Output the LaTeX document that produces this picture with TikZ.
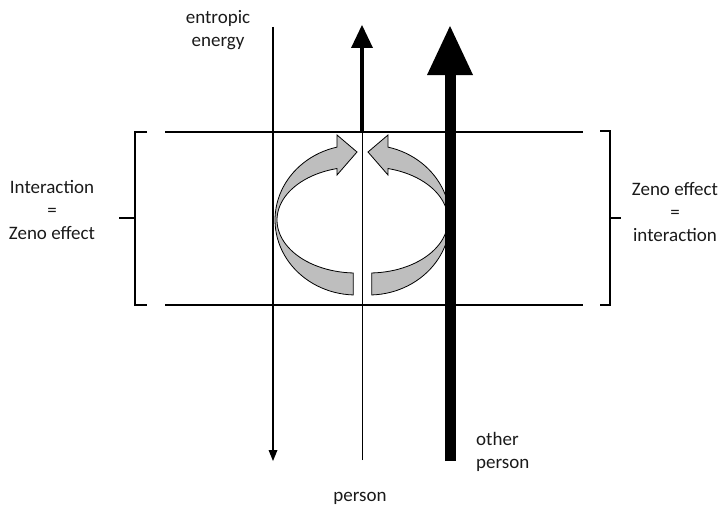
\documentclass[tikz,border=0pt]{standalone}
\usepackage{fontspec}
\setmainfont{Carlito}
\usetikzlibrary{arrows.meta}
\definecolor{ZenoArrowFill}{HTML}{BEBEBE}
\definecolor{ZenoText}{HTML}{1A1A1A}

\begin{document}
\begin{tikzpicture}[x=1pt,y=-1pt,font=\fontsize{19}{23}\selectfont,
  label/.style={text=ZenoText,align=center,inner sep=0pt},
  rule/.style={line width=2.4pt},
  turn/.style={draw=black,fill=ZenoArrowFill,line width=0.8pt,line join=miter}]
  \useasboundingbox (0,0) rectangle (722,511);

  % interaction band
  \draw[rule] (165,132) -- (583,132);
  \draw[rule] (165,305) -- (583,305);

  % brackets
  \draw[line width=2pt] (147,132) -- (135,132) -- (135,305) -- (147,305);
  \draw[line width=2pt] (135,218) -- (119,218);
  \draw[line width=2pt] (600,131) -- (610,131) -- (610,305) -- (600,305);
  \draw[line width=2pt] (610,218) -- (621,218);

  % person axis (thin part)
  \coordinate (personbase) at (362,460);
  \coordinate (personmid) at (362,132);
  \coordinate (persontop) at (362,25);
  \draw[line width=0.9pt] (personbase) -- (personmid);

  % turning arrows
  \filldraw[turn] plot[domain=92:256.4,samples=50] ({356+81*cos(\x)},{220+75*sin(\x)})
    -- (337,135) -- (357,152) -- (337,175)
    -- plot[domain=256.1:92,samples=50] ({356+79*cos(\x)},{220+53*sin(\x)}) -- cycle;
  \filldraw[turn] plot[domain=88:-76.4,samples=50] ({369+81*cos(\x)},{220+75*sin(\x)})
    -- (388,135) -- (368,152) -- (388,175)
    -- plot[domain=-76.1:88,samples=50] ({369+79*cos(\x)},{220+53*sin(\x)}) -- cycle;

  % axes
  \coordinate (entropytop) at (273,27);
  \coordinate (entropybottom) at (273,461);
  \draw[line width=2.4pt,-{Triangle[width=9pt,length=11pt,line width=0pt]}] (entropytop) -- (entropybottom);
  \draw[line width=4pt,-{Triangle[width=22pt,length=23pt,line width=0pt]}] (personmid) -- (persontop);
  \coordinate (otherbase) at (450,461);
  \coordinate (othertop) at (450,26);
  \draw[line width=11pt,-{Triangle[width=46pt,length=49pt,line width=0pt]}] (otherbase) -- (othertop);

  % labels
  \node[label] (entropylabel) at (218,30) {entropic\\energy};
  \node[label] (leftlabel) at (52,210) {Interaction\\=\\Zeno effect};
  \node[label] (rightlabel) at (675,212) {Zeno effect\\=\\interaction};
  \node[label,align=left,anchor=west] (otherlabel) at (476,452) {other\\person};
  \node[label] (personlabel) at (360,498) {person};
\end{tikzpicture}
\end{document}
